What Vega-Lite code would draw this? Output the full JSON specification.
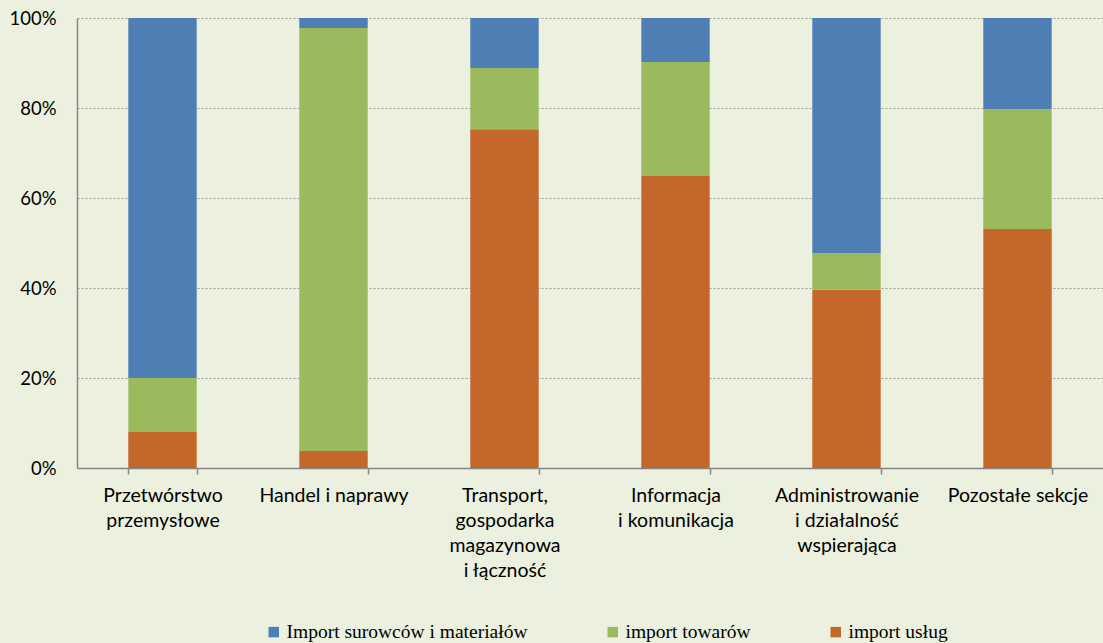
{
  "$schema": "https://vega.github.io/schema/vega-lite/v6.json",
  "width": 1026,
  "height": 450,
  "autosize": {"type": "none"},
  "padding": {"left": 77, "top": 18, "right": 0, "bottom": 175},
  "background": "#EBF1DE",
  "config": {
    "view": {"stroke": null},
    "font": "Lato"
  },
  "data": {
    "values": [
      {"sekcja": "Przetwórstwo przemysłowe", "rodzaj": "import usług", "ord": 1, "udzial": 8.0},
      {"sekcja": "Przetwórstwo przemysłowe", "rodzaj": "import towarów", "ord": 2, "udzial": 12.0},
      {"sekcja": "Przetwórstwo przemysłowe", "rodzaj": "Import surowców i materiałów", "ord": 3, "udzial": 80.0},
      {"sekcja": "Handel i naprawy", "rodzaj": "import usług", "ord": 1, "udzial": 3.8},
      {"sekcja": "Handel i naprawy", "rodzaj": "import towarów", "ord": 2, "udzial": 94.0},
      {"sekcja": "Handel i naprawy", "rodzaj": "Import surowców i materiałów", "ord": 3, "udzial": 2.2},
      {"sekcja": "Transport, gospodarka magazynowa i łączność", "rodzaj": "import usług", "ord": 1, "udzial": 75.3},
      {"sekcja": "Transport, gospodarka magazynowa i łączność", "rodzaj": "import towarów", "ord": 2, "udzial": 13.6},
      {"sekcja": "Transport, gospodarka magazynowa i łączność", "rodzaj": "Import surowców i materiałów", "ord": 3, "udzial": 11.1},
      {"sekcja": "Informacja i komunikacja", "rodzaj": "import usług", "ord": 1, "udzial": 64.9},
      {"sekcja": "Informacja i komunikacja", "rodzaj": "import towarów", "ord": 2, "udzial": 25.3},
      {"sekcja": "Informacja i komunikacja", "rodzaj": "Import surowców i materiałów", "ord": 3, "udzial": 9.8},
      {"sekcja": "Administrowanie i działalność wspierająca", "rodzaj": "import usług", "ord": 1, "udzial": 39.6},
      {"sekcja": "Administrowanie i działalność wspierająca", "rodzaj": "import towarów", "ord": 2, "udzial": 8.2},
      {"sekcja": "Administrowanie i działalność wspierająca", "rodzaj": "Import surowców i materiałów", "ord": 3, "udzial": 52.2},
      {"sekcja": "Pozostałe sekcje", "rodzaj": "import usług", "ord": 1, "udzial": 53.1},
      {"sekcja": "Pozostałe sekcje", "rodzaj": "import towarów", "ord": 2, "udzial": 26.7},
      {"sekcja": "Pozostałe sekcje", "rodzaj": "Import surowców i materiałów", "ord": 3, "udzial": 20.2}
    ]
  },
  "mark": {"type": "bar"},
  "encoding": {
    "x": {
      "field": "sekcja",
      "type": "nominal",
      "sort": null,
      "title": null,
      "scale": {"paddingInner": 0.6, "paddingOuter": 0.3},
      "axis": {
        "labelAngle": 0,
        "labelFontSize": 19.5,
        "labelColor": "#000000",
        "labelPadding": 12,
        "labelLineHeight": 25,
        "labelBaseline": "top",
        "labelLimit": 300,
        "labelExpr": "datum.value == 'Przetwórstwo przemysłowe' ? ['Przetwórstwo','przemysłowe'] : datum.value == 'Transport, gospodarka magazynowa i łączność' ? ['Transport,','gospodarka','magazynowa','i łączność'] : datum.value == 'Informacja i komunikacja' ? ['Informacja','i komunikacja'] : datum.value == 'Administrowanie i działalność wspierająca' ? ['Administrowanie','i działalność','wspierająca'] : datum.value",
        "domainColor": "#868686",
        "domainWidth": 1.5,
        "tickColor": "#868686",
        "tickWidth": 1.5,
        "tickSize": 6,
        "tickBand": "extent",
        "grid": false
      }
    },
    "y": {
      "field": "udzial",
      "type": "quantitative",
      "stack": "zero",
      "title": null,
      "scale": {"domain": [0, 100], "nice": false},
      "axis": {
        "values": [0, 20, 40, 60, 80, 100],
        "labelExpr": "datum.value + '%'",
        "labelFontSize": 18.5,
        "labelColor": "#000000",
        "labelPadding": 21,
        "ticks": false,
        "domainColor": "#868686",
        "domainWidth": 1.5,
        "gridColor": "#9A9A9A",
        "gridDash": [2, 2],
        "gridWidth": 1
      }
    },
    "order": {"field": "ord", "type": "quantitative", "sort": "ascending"},
    "color": {
      "field": "rodzaj",
      "type": "nominal",
      "scale": {
        "domain": ["Import surowców i materiałów", "import towarów", "import usług"],
        "range": ["#4F7EB4", "#9BBA5E", "#C4672A"]
      },
      "legend": {
        "title": null,
        "orient": "none",
        "direction": "horizontal",
        "legendX": 187,
        "legendY": 604,
        "symbolType": "square",
        "symbolSize": 110,
        "symbolStrokeWidth": 0,
        "labelFont": "Liberation Serif",
        "labelFontSize": 19.5,
        "labelLimit": 400,
        "labelColor": "#000000",
        "labelOffset": 3,
        "columnPadding": 75
      }
    }
  }
}
